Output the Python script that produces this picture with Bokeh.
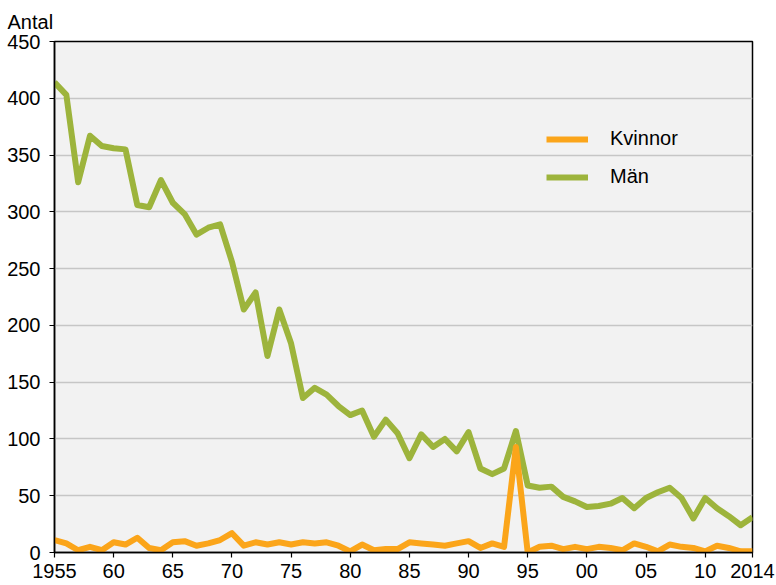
from bokeh.plotting import figure
from bokeh.models import FixedTicker, Legend, LegendItem, Range1d, ColumnDataSource
from bokeh.embed import file_html
from bokeh.resources import INLINE

years = list(range(1955, 2015))

man = [414, 403, 326, 367, 358, 356, 355, 306, 304, 328,
       308, 298, 280, 286, 289, 256, 214, 229, 173, 214,
       184, 136, 145, 139, 129, 121, 125, 102, 117, 105,
       83, 104, 93, 100, 89, 106, 74, 69, 74, 107,
       59, 57, 58, 49, 45, 40, 41, 43, 48, 39,
       48, 53, 57, 48, 30, 48, 39, 32, 24, 31]

kvinnor = [11, 8, 2, 5, 2, 9, 7, 13, 4, 2,
           9, 10, 6, 8, 11, 17, 6, 9, 7, 9,
           7, 9, 8, 9, 6, 1, 7, 2, 3, 3,
           9, 8, 7, 6, 8, 10, 4, 8, 5, 93,
           0, 5, 6, 3, 5, 3, 5, 4, 2, 8,
           5, 1, 7, 5, 4, 1, 6, 4, 1, 1]

x_ticks = [1955, 1960, 1965, 1970, 1975, 1980, 1985, 1990, 1995, 2000, 2005, 2010, 2014]
x_tick_labels = ["1955", "60", "65", "70", "75", "80", "85", "90", "95", "00", "05", "10", "2014"]
y_ticks = [0, 50, 100, 150, 200, 250, 300, 350, 400, 450]

series_names = ["Kvinnor", "Män"]
y_title = "Antal"

FONT = "Liberation Sans"
ORANGE = "#fba51a"
GREEN = "#9db43c"

src = ColumnDataSource(dict(year=years, man=man, kvinnor=kvinnor))

p = figure(width=776, height=585, output_backend="svg", toolbar_location=None,
           x_range=Range1d(1955, 2014), y_range=Range1d(0, 450),
           min_border_left=54, min_border_right=24, min_border_top=41, min_border_bottom=33)

p.title.text = y_title
p.title.align = "left"
p.title.offset = -47
p.title.standoff = 17
p.title.text_font = FONT
p.title.text_font_size = "20px"
p.title.text_font_style = "normal"
p.title.text_color = "black"

p.background_fill_color = "#f2f2f2"
p.border_fill_color = "white"
p.outline_line_color = "black"
p.outline_line_width = 1.5

p.xgrid.visible = False
p.ygrid.grid_line_color = "#c6c6c6"
p.ygrid.grid_line_width = 1.5

for ax in (p.xaxis[0], p.yaxis[0]):
    ax.axis_line_color = "black"
    ax.axis_line_width = 1.5
    ax.major_tick_in = 0
    ax.major_tick_out = 5
    ax.major_tick_line_color = "black"
    ax.major_tick_line_width = 1.2
    ax.minor_tick_line_color = None
    ax.major_label_text_font = FONT
    ax.major_label_text_font_size = "20px"
    ax.major_label_text_color = "black"

p.yaxis[0].ticker = FixedTicker(ticks=y_ticks)
p.yaxis[0].major_label_standoff = 9
p.xaxis[0].ticker = FixedTicker(ticks=x_ticks)
p.xaxis[0].major_label_overrides = {t: l for t, l in zip(x_ticks, x_tick_labels)}
p.xaxis[0].major_label_standoff = 6

r_m = p.line("year", "man", source=src, line_color=GREEN, line_width=6, line_join="round")
r_k = p.line("year", "kvinnor", source=src, line_color=ORANGE, line_width=6, line_join="round")

legend = Legend(items=[LegendItem(label=series_names[0], renderers=[r_k]),
                       LegendItem(label=series_names[1], renderers=[r_m])],
                location=(492, 364), border_line_color=None, background_fill_alpha=0,
                padding=0, margin=0, spacing=15, glyph_width=42, glyph_height=20,
                label_standoff=22, label_text_font=FONT, label_text_font_size="20px",
                label_text_color="black", label_height=20)
p.add_layout(legend)

open("out.html", "w").write(file_html(p, INLINE))
